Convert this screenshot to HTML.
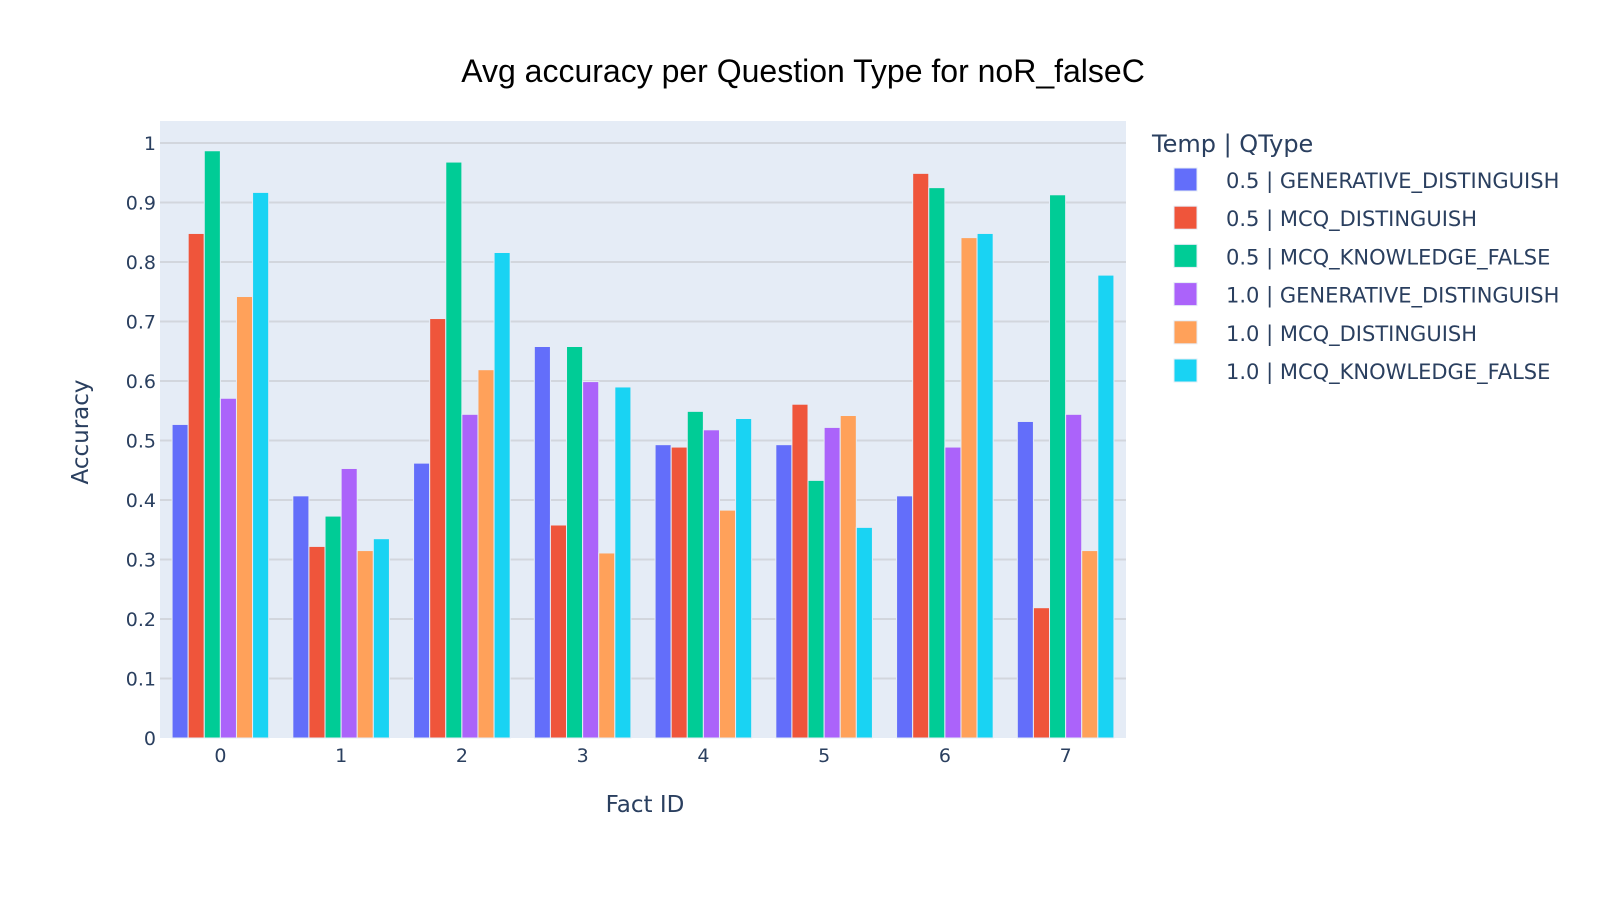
<!DOCTYPE html>
<html><head><meta charset="utf-8"><style>
html,body{margin:0;padding:0;background:#fff;}
svg{display:block;}
text{font-family:"DejaVu Sans","Liberation Sans",sans-serif;fill:#2a3f5f;}
</style></head><body>
<svg id="chart" width="1600" height="900">
<text x="803" y="82" text-anchor="middle" style="font-family:'Liberation Sans',sans-serif;font-size:32px;fill:#000">Avg accuracy per Question Type for noR_falseC</text>
<rect x="160" y="121" width="966" height="617" fill="#e5ecf6"/>
<g id="grid"></g><g id="bars"></g><g id="yticks"></g><g id="xticks"></g>
<text transform="translate(88,432) rotate(-90)" text-anchor="middle" style="font-size:23px">Accuracy</text>
<text x="645" y="812" text-anchor="middle" style="font-size:23px">Fact ID</text>
<g id="legend">
<text x="1152" y="152" style="font-size:24px">Temp | QType</text>
</g>
</svg>
<script>
const categories=['0','1','2','3','4','5','6','7'];
const seriesNames=['0.5 | GENERATIVE_DISTINGUISH','0.5 | MCQ_DISTINGUISH','0.5 | MCQ_KNOWLEDGE_FALSE','1.0 | GENERATIVE_DISTINGUISH','1.0 | MCQ_DISTINGUISH','1.0 | MCQ_KNOWLEDGE_FALSE'];
const colors=['#636efa','#EF553B','#00cc96','#ab63fa','#FFA15A','#19d3f3'];
const gen05=[0.527,0.407,0.462,0.658,0.493,0.493,0.407,0.532];
const mcq05=[0.848,0.322,0.705,0.358,0.489,0.561,0.949,0.219];
const kf05=[0.987,0.373,0.968,0.658,0.549,0.433,0.925,0.913];
const gen10=[0.571,0.453,0.544,0.599,0.518,0.522,0.489,0.544];
const mcq10=[0.742,0.315,0.619,0.311,0.383,0.542,0.841,0.315];
const kf10=[0.917,0.335,0.816,0.590,0.537,0.354,0.848,0.778];
const yTicks=[0,0.1,0.2,0.3,0.4,0.5,0.6,0.7,0.8,0.9,1];
const yTickLabels=['0','0.1','0.2','0.3','0.4','0.5','0.6','0.7','0.8','0.9','1'];
const series=[gen05,mcq05,kf05,gen10,mcq10,kf10];
const NS='http://www.w3.org/2000/svg';
const X0=160,W=966,Y0=738,YMAX=1.037,H=617;
const band=W/categories.length;
function y(v){return Y0-v/YMAX*H;}
function xc(i){return X0+band*(i+0.5);}
function mk(tag,attrs,parent){const e=document.createElementNS(NS,tag);for(const k in attrs)e.setAttribute(k,attrs[k]);parent.appendChild(e);return e;}
const grid=document.getElementById('grid'),yt=document.getElementById('yticks'),xt=document.getElementById('xticks'),bars=document.getElementById('bars'),leg=document.getElementById('legend');
yTicks.forEach((t,i)=>{
  if(t>0){const l=mk('line',{x1:X0,x2:X0+W,y1:y(t),y2:y(t),stroke:'#d2d6dd','stroke-width':2},grid);
  
  }
  const tx=mk('text',{x:156,y:y(t)+7,'text-anchor':'end',style:'font-size:19px'},yt);
  tx.textContent=yTickLabels[i];
  
  
});
categories.forEach((c,i)=>{
  const tx=mk('text',{x:xc(i),y:762,'text-anchor':'middle',style:'font-size:19px'},xt);
  tx.textContent=c;
  
  
});
const groupW=band*0.8,bw=groupW/series.length;
series.forEach((s,j)=>{
  s.forEach((v,i)=>{
    const x=xc(i)-groupW/2+j*bw;
    const r=mk('rect',{x:x,y:y(v),width:bw,height:Y0-y(v),fill:colors[j],stroke:'#e5ecf6','stroke-width':1},bars);
    
    
  });
  const cy=180+j*38.2;
  const sw=mk('rect',{x:1174,y:cy-12,width:23,height:23,fill:colors[j],stroke:'#e5ecf6','stroke-width':1},leg);
  
  
  const tx=mk('text',{x:1226,y:cy+8,style:'font-size:21px'},leg);
  tx.textContent=seriesNames[j];
  
  
});
</script>
</body></html>
